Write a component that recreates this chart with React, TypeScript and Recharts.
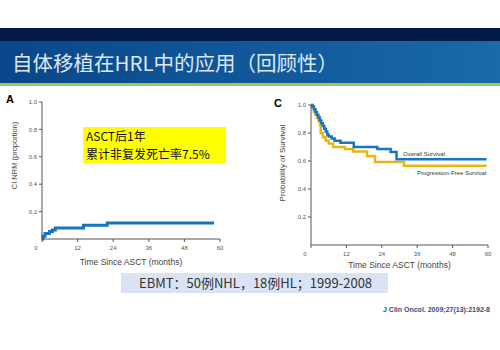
import { Line, LineChart, ReferenceDot, XAxis, YAxis } from 'recharts';

// tick values
const monthTicks = [0, 12, 24, 36, 48, 60];
const probTicks = [0.2, 0.4, 0.6, 0.8, 1.0];

// panel A: cumulative incidence of NRM
const nrmMonths = [0, 0.3, 1, 2.5, 3.5, 4.5, 14, 22, 58];
const nrmValues = [0, 0.02, 0.04, 0.055, 0.065, 0.08, 0.1, 0.117, 0.117];

// panel C: overall survival
const osMonths = [0, 0.5, 1, 1.5, 2, 2.5, 3, 3.5, 4, 4.5, 5, 5.5, 6, 7, 8, 10, 14.5, 22.5, 27, 29, 59.5];
const osValues = [1.0, 0.99, 0.97, 0.95, 0.93, 0.91, 0.89, 0.87, 0.85, 0.83, 0.81, 0.79, 0.775, 0.76, 0.745, 0.73, 0.7, 0.685, 0.665, 0.612, 0.612];

// panel C: progression-free survival
const pfsMonths = [0, 0.5, 1, 1.5, 2, 2.5, 3, 3.3, 4, 5, 6, 7.5, 11.5, 14.3, 19, 21.7, 31.5, 59.5];
const pfsValues = [1.0, 0.98, 0.95, 0.93, 0.91, 0.89, 0.86, 0.8, 0.77, 0.745, 0.725, 0.7, 0.685, 0.668, 0.636, 0.592, 0.566, 0.566];

const toRows = (months: number[], values: number[]) =>
    months.map((m, i) => ({ month: m, value: values[i] }));

const axisColor = '#555';
const chartFont = '"Liberation Sans", Arial, sans-serif';

const MonthTick = ({ x, y, payload }: any) => (
    <text
        x={payload.value === 0 ? x - 6 : x}
        y={y + 6}
        textAnchor="middle"
        fontSize={6}
        fill="#555"
        fontFamily={chartFont}
    >
        {payload.value}
    </text>
);

const VerticalLabel = (text: string, dx: number, dy: number, size: number) => ({ viewBox }: any) => {
    const x = viewBox.x + dx;
    const y = viewBox.y + viewBox.height / 2 + dy;
    return (
        <text
            x={x}
            y={y}
            transform={`rotate(-90, ${x}, ${y})`}
            textAnchor="middle"
            dominantBaseline="central"
            fontSize={size}
            fill="#444"
            fontFamily={chartFont}
        >
            {text}
        </text>
    );
};

const App = () => {
    const nrmData = toRows(nrmMonths, nrmValues);
    const osData = toRows(osMonths, osValues);
    const pfsData = toRows(pfsMonths, pfsValues);

    return (
        <div
            style={{
                position: 'fixed',
                left: 0,
                top: 0,
                width: 500,
                height: 350,
                background: '#fff',
                overflow: 'hidden',
                fontFamily: '"Noto Sans CJK SC", "Noto Sans", sans-serif',
            }}
        >
            {/* header */}
            <div style={{ position: 'absolute', left: 0, top: 28, width: 500, height: 13, background: '#031a46' }} />
            <div
                style={{
                    position: 'absolute',
                    left: 0,
                    top: 41,
                    width: 500,
                    height: 42,
                    background: 'linear-gradient(90deg, #0a4689 0%, #115a9c 55%, #1a69a8 100%)',
                }}
            />
            <div style={{ position: 'absolute', left: 0, top: 83, width: 500, height: 3, background: '#9ccc4a' }} />
            <div
                style={{
                    position: 'absolute',
                    left: 12,
                    top: 49,
                    fontSize: 20.5,
                    lineHeight: '26px',
                    color: '#dde7f2',
                    whiteSpace: 'nowrap',
                }}
            >
                自体移植在HRL中的应用（回顾性）
            </div>

            {/* panel A */}
            <div style={{ position: 'absolute', left: 6, top: 93, fontSize: 11, fontWeight: 'bold', fontFamily: chartFont }}>A</div>
            <div style={{ position: 'absolute', left: 0, top: 90 }}>
                <LineChart width={250} height={190} margin={{ top: 12, right: 30, bottom: 11, left: 0 }}>
                    <XAxis
                        dataKey="month"
                        type="number"
                        domain={[0, 60]}
                        ticks={monthTicks}
                        tick={<MonthTick />}
                        tickSize={3}
                        stroke={axisColor}
                        height={30}
                        label={{ value: 'Time Since ASCT (months)', position: 'insideBottom', offset: 4, fontSize: 8.5, fill: '#444', fontFamily: chartFont }}
                    />
                    <YAxis
                        type="number"
                        domain={[0, 1]}
                        ticks={probTicks}
                        tickSize={3}
                        stroke={axisColor}
                        width={42}
                        tick={{ fontSize: 6, fill: '#555', fontFamily: chartFont }}
                        tickFormatter={(v: number) => v.toFixed(1)}
                        label={{ content: VerticalLabel('CI NRM (proportion)', 14, -15, 7.5) }}
                    />
                    <Line
                        data={nrmData}
                        dataKey="value"
                        type="stepAfter"
                        stroke="#1874bd"
                        strokeWidth={3}
                        dot={false}
                        isAnimationActive={false}
                    />
                </LineChart>
            </div>
            <div
                style={{
                    position: 'absolute',
                    left: 83,
                    top: 127,
                    width: 143,
                    height: 36,
                    background: '#ffff00',
                    fontSize: 12,
                    lineHeight: '18px',
                    color: '#111',
                    padding: '0 0 0 3px',
                    boxSizing: 'border-box',
                    whiteSpace: 'nowrap',
                }}
            >
                <div>ASCT后1年</div>
                <div>累计非复发死亡率7.5%</div>
            </div>

            {/* panel C */}
            <div style={{ position: 'absolute', left: 274, top: 97, fontSize: 11, fontWeight: 'bold', fontFamily: chartFont }}>C</div>
            <div style={{ position: 'absolute', left: 250, top: 90 }}>
                <LineChart width={250} height={190} margin={{ top: 15, right: 12, bottom: 5, left: 0 }}>
                    <XAxis
                        dataKey="month"
                        type="number"
                        domain={[0, 60]}
                        ticks={monthTicks}
                        tick={<MonthTick />}
                        tickSize={3}
                        stroke={axisColor}
                        height={30}
                        label={{ value: 'Time Since ASCT (months)', position: 'insideBottom', offset: 7, fontSize: 8.5, fill: '#444', fontFamily: chartFont }}
                    />
                    <YAxis
                        type="number"
                        domain={[0, 1]}
                        ticks={probTicks}
                        tickSize={3}
                        stroke={axisColor}
                        width={61}
                        tick={{ fontSize: 6, fill: '#555', fontFamily: chartFont }}
                        tickFormatter={(v: number) => v.toFixed(1)}
                        label={{ content: VerticalLabel('Probability of Survival', 32, -12, 8) }}
                    />
                    <Line
                        data={pfsData}
                        dataKey="value"
                        type="stepAfter"
                        stroke="#e9b514"
                        strokeWidth={2.5}
                        dot={false}
                        isAnimationActive={false}
                    />
                    <Line
                        data={osData}
                        dataKey="value"
                        type="stepAfter"
                        stroke="#1676c1"
                        strokeWidth={2.5}
                        dot={false}
                        isAnimationActive={false}
                    />
                    <ReferenceDot
                        x={31.2}
                        y={0.65}
                        r={0}
                        fill="none"
                        stroke="none"
                        label={{ value: 'Overall Survival', position: 'right', offset: 0, fontSize: 6, fill: '#333', fontFamily: chartFont }}
                    />
                    <ReferenceDot
                        x={35.9}
                        y={0.514}
                        r={0}
                        fill="none"
                        stroke="none"
                        label={{ value: 'Progression-Free Survival', position: 'right', offset: 0, fontSize: 6, fill: '#333', fontFamily: chartFont }}
                    />
                </LineChart>
            </div>

            {/* footer */}
            <div
                style={{
                    position: 'absolute',
                    left: 121,
                    top: 273,
                    width: 267,
                    height: 20,
                    background: '#dae3f3',
                    fontSize: 13,
                    lineHeight: '20px',
                    color: '#333',
                    paddingLeft: 18,
                    boxSizing: 'border-box',
                    whiteSpace: 'nowrap',
                }}
            >
                EBMT：50例NHL，18例HL；1999-2008
            </div>
            <div
                style={{
                    position: 'absolute',
                    right: 10,
                    top: 306,
                    fontSize: 7,
                    fontWeight: 'bold',
                    color: '#2f4f7f',
                    fontFamily: chartFont,
                    whiteSpace: 'nowrap',
                }}
            >
                J Clin Oncol. 2009;27(13):2192-8
            </div>
        </div>
    );
};

export default App;
